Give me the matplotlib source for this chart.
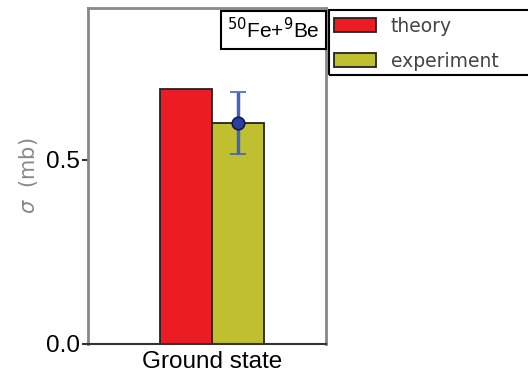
import numpy as np
import matplotlib
matplotlib.use('Agg')
import matplotlib.pyplot as plt
from matplotlib.patches import Rectangle

# data
categories = ['Ground state']
theory = [0.693]
experiment = [0.600]
exp_err = [0.085]
series_labels = ['theory', 'experiment']

W, H = 528, 383
fig = plt.figure(figsize=(W/100, H/100), dpi=100)
ax = fig.add_axes([88/W, 1-344/H, 238/W, 336/H])

x = np.arange(len(categories))
w = 0.35
ax.bar(x - w/2, theory, w, color='#ec1c24', edgecolor='#222222', lw=1.3, label=series_labels[0])
ax.bar(x + w/2, experiment, w, color='#bfbf30', edgecolor='#222222', lw=1.3, label=series_labels[1])
ax.errorbar(x + w/2, experiment, yerr=exp_err, fmt='o', color='#2a3f9a', ecolor='#4563b8',
            mec='#101a50', mew=1.2, ms=9, elinewidth=2.5, capsize=6, capthick=2, zorder=5)

ax.set_xlim(-0.834, 0.767)
ax.set_ylim(0, 0.913)
ax.set_yticks([0.0, 0.5])
ax.set_yticklabels(['0.0', '0.5'], fontfamily='Liberation Sans', fontsize=17.5)
ax.set_xticks(x)
ax.set_xticklabels(categories, fontfamily='Liberation Sans', fontsize=17.5)
ax.tick_params(axis='x', length=0, pad=5)
ax.tick_params(axis='y', length=4, width=1.5, direction='out', pad=2, color='#333333')
ax.set_ylabel(r'$\sigma$  (mb)', color='#888888', fontsize=15, labelpad=4)

for s in ['left', 'top', 'right']:
    ax.spines[s].set_color('#888888')
    ax.spines[s].set_linewidth(2)
ax.spines['bottom'].set_color('#333333')
ax.spines['bottom'].set_linewidth(1.5)

ax.text(0.975, 0.972, r'$^{50}$Fe+$^{9}$Be', transform=ax.transAxes, ha='right', va='top',
        fontfamily='Liberation Sans', fontsize=15,
        bbox=dict(boxstyle='square,pad=0.3', fc='white', ec='black', lw=1.5))

# legend frame runs off the right edge in the original
fig.patches.append(Rectangle((329/W, 1-75/H), 220/W, 65/H, transform=fig.transFigure,
                             fill=False, ec='black', lw=1.5, clip_on=False))
leg = ax.legend(loc='upper left', bbox_to_anchor=(330/W, 1-13/H), bbox_transform=fig.transFigure,
                frameon=False, fontsize=13.5, handlelength=2.25, handleheight=0.8,
                labelspacing=0.85, handletextpad=0.8, borderpad=0.2, borderaxespad=0)
for t in leg.get_texts():
    t.set_color('#444444')

fig.savefig('out.png', dpi=100)
